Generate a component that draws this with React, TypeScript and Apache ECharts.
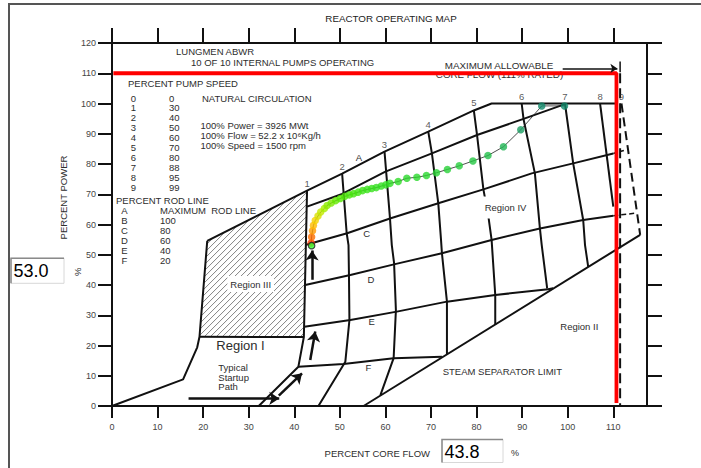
import React, { useEffect, useRef } from 'react';
import * as echarts from 'echarts';

const FONT = '"Liberation Sans", Arial, Helvetica, sans-serif';

// ---------- axes ----------
const X_MAX = 117.4;
const Y_MAX = 120;
const X_TICKS = [0, 10, 20, 30, 40, 50, 60, 70, 80, 90, 100, 110];
const Y_TICKS = [0, 10, 20, 30, 40, 50, 60, 70, 80, 90, 100, 110, 120];

// ---------- map boundaries (core flow %, power %) ----------
const NATURAL_CIRCULATION = [[0, 0], [15.6, 8.8], [18.7, 19.4], [19.2, 22.9], [20.9, 54.6]];
const REGION_III = [[20.9, 54.6], [42.8, 71.2], [42.1, 22.8], [19.2, 22.9]];
const REGION_III_BOTTOM = [[19.2, 22.9], [42.1, 22.8]];

const ROD_A = [[20.9, 54.6], [42.8, 71.2], [50.5, 76.8], [59.8, 84.1], [69.4, 90.7], [79.4, 97.7], [83.3, 100], [110.5, 100]];
const ROD_B = [[42.8, 65.9], [50.5, 70.1], [60.0, 77.5], [70.2, 83.5], [80.1, 89.6], [90.3, 94.9], [99.4, 99.8]];
const ROD_C = [[42.6, 53.3], [51.6, 57.1], [61.0, 62.0], [71.6, 67.0], [81.5, 71.6], [92.1, 76.9], [101.2, 80.2], [110.0, 83.5]];
const ROD_D = [[42.4, 40.0], [52.3, 43.3], [62.1, 46.9], [72.4, 50.5], [83.3, 54.9], [93.9, 58.7], [103.4, 61.5], [110.0, 62.9]];
const ROD_E = [[42.2, 26.2], [52.3, 28.4], [62.5, 31.2], [73.5, 34.5], [84.1, 36.7], [95.7, 38.6], [96.8, 38.9]];
const ROD_F = [[40.9, 13.0], [50.8, 13.9], [61.8, 15.8], [72.4, 16.3]];
const ROD_C_EXT = [[110.0, 83.5], [112.6, 84.6]];
const ROD_D_EXT = [[110.0, 62.9], [115.2, 63.8]];

const SPEED_1 = [[42.8, 71.2], [42.1, 22.8], [40.9, 13.0], [32.2, 0]];
const SPEED_2 = [[50.5, 76.8], [51.5, 57.1], [51.9, 53.2], [52.0, 43.3], [52.1, 28.4], [51.2, 14.6], [45.3, 0]];
const SPEED_3 = [[59.8, 84.1], [61.0, 62.0], [61.4, 53.2], [61.9, 47.2], [62.3, 31.7], [61.8, 15.8], [58.9, 3.6]];
const SPEED_4 = [[69.4, 90.7], [70.2, 83.5], [71.6, 67.0], [72.2, 54.9], [72.4, 50.5], [73.5, 34.5], [73.5, 17.2]];
const SPEED_5 = [[79.4, 97.7], [80.1, 89.6], [81.5, 71.6], [82.6, 62.6], [83.3, 54.9], [84.1, 36.7], [84.1, 26.8]];
const SPEED_6 = [[89.9, 100], [90.3, 94.9], [92.8, 76.9], [93.9, 58.7], [94.3, 53.2], [95.5, 38.8]];
const SPEED_7 = [[99.4, 100], [101.2, 80.2], [103.4, 61.5], [103.8, 53.2], [104.5, 46.0]];
const SPEED_8 = [[107.1, 100], [110.0, 65.9]];
const SPEED_9 = [[111.8, 100], [115.9, 56.6]];
const SPEED_NUMBERS = ['1', '2', '3', '4', '5', '6', '7', '8', '9'];

const STEAM_SEPARATOR = [[55.2, 0], [115.9, 56.6]];
const MAX_FLOW_RED = [[0.3, 110], [110.7, 110], [110.7, 1]];
const FLOW_111 = [[111.5, 110], [111.5, 0]];
const MAX_ALLOW_POINTER = [[98.9, 111.6], [110.9, 111.6]];
const MAX_ALLOW_TICK = [[111.5, 113.9], [111.5, 110.3]];

// ---------- startup arrows ----------
const STARTUP_ARROWS = [
  [[16.8, 2.5], [36.7, 2.5]],
  [[36.6, 3.4], [41.7, 10.8]],
  [[43.5, 15.2], [44.6, 24.6]],
  [[43.9, 41.7], [43.9, 51.4]],
];

// ---------- operating path ----------
const PATH_FLOW = [43.7, 43.8, 44.0, 44.2, 44.6, 45.2, 45.8, 46.6, 47.2, 48.1, 49.1, 50.1, 51.1, 52.1, 53.0, 54.0, 55.0, 56.0, 57.0, 58.0, 59.1, 60.1, 61.0, 62.8, 64.7, 66.9, 69.0, 71.2, 73.6, 76.2, 79.2, 82.5, 85.9, 89.7, 94.3, 99.3];
const PATH_POWER = [53.9, 55.9, 57.9, 59.7, 61.3, 62.8, 64.1, 65.3, 66.3, 67.1, 67.9, 68.6, 69.3, 69.8, 70.2, 70.7, 71.2, 71.6, 71.9, 72.2, 72.7, 73.1, 73.6, 74.2, 75.3, 75.6, 76.2, 77.1, 78.2, 79.4, 81.0, 82.8, 85.7, 91.3, 99.2, 99.2];
const CURRENT_FLOW = 43.8;
const CURRENT_POWER = 53.0;

// ---------- legend text ----------
const PUMP_SPEED_NO = ['0', '1', '2', '3', '4', '5', '6', '7', '8', '9'];
const PUMP_SPEED_PCT = ['0', '30', '40', '50', '60', '70', '80', '88', '95', '99'];
const ROD_LINE_ID = ['A', 'B', 'C', 'D', 'E', 'F'];
const ROD_LINE_PCT = ['MAXIMUM  ROD LINE', '100', '80', '60', '40', '20'];

type TOpt = { size?: number; align?: string; fill?: string; rotation?: number; bg?: string; pad?: any; z?: number };
const T = (text: string, x: number, y: number, o: TOpt = {}) => ({
  type: 'text',
  x,
  y,
  rotation: o.rotation ?? 0,
  z: o.z ?? 50,
  silent: true,
  style: {
    text,
    fill: o.fill ?? '#2d2d2d',
    fontSize: o.size ?? 9.5,
    fontFamily: FONT,
    align: o.align ?? 'left',
    verticalAlign: 'middle',
    textAlign: o.align ?? 'left',
    textVerticalAlign: 'middle',
    backgroundColor: o.bg,
    padding: o.pad,
  },
});

const lineSeries = (name: string, data: number[][], o: any = {}) => ({
  type: 'line',
  name,
  data,
  symbol: 'none',
  silent: true,
  clip: false,
  z: o.z ?? 3,
  lineStyle: { color: o.color ?? '#111', width: o.width ?? 2, type: o.type ?? 'solid' },
});

function buildOption() {
  const axisStyle = { color: '#111', width: 2 };
  const graphics: any[] = [];

  graphics.push({
    type: 'rect', z: 0, silent: true,
    shape: { x: 9, y: 4, width: 900, height: 700 },
    style: { fill: 'none', stroke: '#555', lineWidth: 2 },
  });
  graphics.push(T('REACTOR OPERATING MAP', 391, 18, { align: 'center', size: 9.8, fill: '#222' }));
  graphics.push(T('LUNGMEN ABWR', 176, 51));
  graphics.push(T('10 OF 10 INTERNAL PUMPS OPERATING', 191, 62.5));
  graphics.push(T('PERCENT PUMP SPEED', 128, 83.5));
  PUMP_SPEED_NO.forEach((n, i) => {
    graphics.push(T(n, 133.5, 98 + i * 9.96, { align: 'center' }));
    graphics.push(T(PUMP_SPEED_PCT[i], 169, 98 + i * 9.96));
  });
  graphics.push(T('NATURAL CIRCULATION', 202, 98.5));
  graphics.push(T('100% Power = 3926 MWt', 200.5, 125));
  graphics.push(T('100% Flow = 52.2 x 10\u2076Kg/h', 200.5, 135));
  graphics.push(T('100% Speed = 1500 rpm', 200.5, 145));
  graphics.push(T('PERCENT ROD LINE', 116, 200.5));
  ROD_LINE_ID.forEach((n, i) => {
    graphics.push(T(n, 124.5, 210.7 + i * 10, { align: 'center' }));
    graphics.push(T(ROD_LINE_PCT[i], 160, 210.7 + i * 10));
  });
  graphics.push(T('MAXIMUM ALLOWABLE', 499, 65, { align: 'center', size: 9.8 }));
  graphics.push(T('CORE FLOW (111% RATED)', 499.5, 74.8, { align: 'center', size: 9.8, z: 1 }));

  graphics.push(T('A', 359, 157.7, { align: 'center' }));
  graphics.push(T('C', 366.7, 233.3, { align: 'center' }));
  graphics.push(T('D', 371, 279, { align: 'center' }));
  graphics.push(T('E', 371.7, 321.7, { align: 'center' }));
  graphics.push(T('F', 368.3, 367.3, { align: 'center' }));

  graphics.push(T('Region III', 250.7, 284, { align: 'center', bg: '#fff', pad: [3, 3] }));
  graphics.push(T('Region I', 240.5, 345, { align: 'center', size: 13 }));
  graphics.push(T('Region IV', 505.5, 207.5, { align: 'center', bg: '#fff', pad: [6, 2] }));
  graphics.push(T('Region II', 579.3, 326, { align: 'center' }));
  graphics.push(T('STEAM SEPARATOR LIMIT', 442.7, 371));
  graphics.push(T('Typical', 218.3, 367.3));
  graphics.push(T('Startup', 218.3, 377));
  graphics.push(T('Path', 218.3, 386.7));

  graphics.push(T('PERCENT POWER', 63.5, 197.5, { align: 'center', rotation: Math.PI / 2 }));
  graphics.push(T('%', 77.3, 271.7, { align: 'center', rotation: Math.PI / 2 }));
  graphics.push(T('PERCENT CORE FLOW', 430, 453, { align: 'right' }));
  graphics.push(T('%', 515, 453, { align: 'center', size: 9 }));

  // input boxes
  const box = (x: number, y: number, w: number, h: number, value: string) => {
    graphics.push({ type: 'rect', z: 40, silent: true, shape: { x, y, width: w, height: h }, style: { fill: '#fff', stroke: '#d8d8d8', lineWidth: 1 } });
    graphics.push({ type: 'polyline', z: 41, silent: true, shape: { points: [[x, y + h], [x, y], [x + w, y]] }, style: { fill: 'none', stroke: '#8a8a8a', lineWidth: 1.5 } });
    graphics.push(T(value, x + 2.5, y + h / 2 + 0.5, { size: 18, fill: '#000', z: 42 }));
  };
  box(11, 258.3, 53, 25, CURRENT_POWER.toFixed(1));
  box(442, 439.5, 61, 23, CURRENT_FLOW.toFixed(1));

  const series: any[] = [];
  // Region III hatch
  series.push({
    type: 'custom',
    coordinateSystem: 'cartesian2d',
    silent: true,
    z: 1,
    data: [[0, 0]],
    renderItem: (_p: any, api: any) => {
      const pts = REGION_III.map((p) => api.coord(p));
      const sums = pts.map((p: number[]) => p[0] + p[1]);
      const lo = Math.min(...sums);
      const hi = Math.max(...sums);
      const children: any[] = [];
      for (let c = lo + 3; c < hi; c += 6) {
        const hits: number[][] = [];
        for (let i = 0; i < pts.length; i++) {
          const P = pts[i];
          const Q = pts[(i + 1) % pts.length];
          const fp = P[0] + P[1] - c;
          const fq = Q[0] + Q[1] - c;
          if ((fp <= 0 && fq > 0) || (fp > 0 && fq <= 0)) {
            const t = fp / (fp - fq);
            hits.push([P[0] + t * (Q[0] - P[0]), P[1] + t * (Q[1] - P[1])]);
          }
        }
        if (hits.length >= 2) {
          children.push({
            type: 'line',
            shape: { x1: hits[0][0], y1: hits[0][1], x2: hits[1][0], y2: hits[1][1] },
            style: { stroke: '#666', lineWidth: 0.8 },
          });
        }
      }
      return { type: 'group', children };
    },
  });

  series.push(lineSeries('natural', NATURAL_CIRCULATION));
  series.push(lineSeries('r3bottom', REGION_III_BOTTOM));
  [ROD_A, ROD_B, ROD_C, ROD_D, ROD_E, ROD_F].forEach((d, i) => series.push(lineSeries('rod' + i, d)));
  series.push(lineSeries('rodCext', ROD_C_EXT, { type: [4, 3], width: 1.5 }));
  series.push(lineSeries('rodDext', ROD_D_EXT, { type: [5, 3], width: 1.5 }));
  [SPEED_1, SPEED_2, SPEED_3, SPEED_4, SPEED_5, SPEED_6, SPEED_7, SPEED_8].forEach((d, i) =>
    series.push(lineSeries('speed' + (i + 1), d))
  );
  series.push(lineSeries('speed9', SPEED_9, { type: [9, 5] }));
  series.push(lineSeries('steam', STEAM_SEPARATOR));
  series.push(lineSeries('flow111', FLOW_111, { type: [10, 5], width: 2 }));
  series.push(lineSeries('maxTick', MAX_ALLOW_TICK, { width: 1.5 }));

  // speed number labels at the top of each pump-speed line
  const speedTops = [SPEED_1, SPEED_2, SPEED_3, SPEED_4, SPEED_5, SPEED_6, SPEED_7, SPEED_8, SPEED_9].map((s) => s[0]);
  series.push({
    type: 'scatter',
    silent: true,
    z: 4,
    symbolSize: 1,
    itemStyle: { color: 'transparent' },
    data: speedTops.map((p, i) => ({ value: p, label: { formatter: SPEED_NUMBERS[i] } })),
    label: { show: true, position: 'top', distance: 2, color: '#2d2d2d', fontSize: 9.5, fontFamily: FONT },
  });

  series.push(lineSeries('maxRed', MAX_FLOW_RED, { color: '#ff0000', width: 3.8, z: 5 }));

  series.push({
    type: 'lines',
    coordinateSystem: 'cartesian2d',
    silent: true,
    z: 6,
    symbol: ['none', 'arrow'],
    symbolSize: 7,
    lineStyle: { color: '#111', width: 1.5, opacity: 1 },
    data: [{ coords: MAX_ALLOW_POINTER }],
  });

  // operating path
  const path = PATH_FLOW.map((x, i) => [x, PATH_POWER[i]]);
  series.push({
    type: 'line',
    data: path,
    symbol: 'none',
    silent: true,
    z: 6,
    lineStyle: { color: '#222', width: 0.8 },
  });
  const pathIndex = series.length;
  series.push({
    type: 'scatter',
    data: path,
    symbolSize: 7.5,
    silent: true,
    z: 7,
  });
  series.push({
    type: 'scatter',
    data: [[CURRENT_FLOW, CURRENT_POWER]],
    symbolSize: 6.5,
    silent: true,
    z: 8,
    itemStyle: { color: '#33ff33', borderColor: '#222', borderWidth: 1.2 },
  });

  series.push({
    type: 'lines',
    coordinateSystem: 'cartesian2d',
    silent: true,
    z: 8,
    symbol: ['none', 'arrow'],
    symbolSize: 10,
    lineStyle: { color: '#111', width: 2.5, opacity: 1 },
    data: STARTUP_ARROWS.map((a) => ({ coords: a })),
  });

  return {
    animation: false,
    backgroundColor: '#fff',
    grid: { left: 112, top: 43, width: 535, height: 363, containLabel: false },
    xAxis: [
      {
        type: 'value', position: 'bottom', min: 0, max: X_MAX, interval: 10,
        axisLine: { show: true, onZero: false, lineStyle: axisStyle },
        axisTick: { show: true, inside: false, length: 12, lineStyle: axisStyle, customValues: X_TICKS },
        axisLabel: {
          show: true, margin: 16, color: '#444', fontSize: 9, fontFamily: FONT, customValues: X_TICKS,
          formatter: (v: number) => (X_TICKS.includes(v) ? String(v) : ''),
        },
        splitLine: { show: false },
      },
      {
        type: 'value', position: 'top', min: 0, max: X_MAX, interval: 10,
        axisLine: { show: true, onZero: false, lineStyle: axisStyle },
        axisTick: { show: true, inside: false, length: 15, lineStyle: axisStyle, customValues: X_TICKS },
        axisLabel: { show: false },
        splitLine: { show: false },
      },
    ],
    yAxis: [
      {
        type: 'value', position: 'left', min: 0, max: Y_MAX, interval: 10,
        axisLine: { show: true, onZero: false, lineStyle: axisStyle },
        axisTick: { show: true, inside: false, length: 14, lineStyle: axisStyle, customValues: Y_TICKS },
        axisLabel: { show: true, margin: 16, color: '#444', fontSize: 9, fontFamily: FONT, customValues: Y_TICKS },
        splitLine: { show: false },
      },
      {
        type: 'value', position: 'right', min: 0, max: Y_MAX, interval: 10,
        axisLine: { show: true, onZero: false, lineStyle: axisStyle },
        axisTick: { show: true, inside: false, length: 15, lineStyle: axisStyle, customValues: Y_TICKS },
        axisLabel: { show: false },
        splitLine: { show: false },
      },
    ],
    visualMap: [
      {
        type: 'continuous',
        show: false,
        seriesIndex: pathIndex,
        dimension: 1,
        min: 53,
        max: 99.5,
        inRange: {
          color: ['#ff2200', '#ff8800', '#ffcc00', '#b8ee00', '#55e800', '#33e020', '#2ad830', '#26cc40', '#22bb50', '#1eaa5a', '#1a9c62', '#169268', '#128a6c'],
        },
      },
    ],
    graphic: { elements: graphics },
    series,
  };
}

export default function App() {
  const ref = useRef<HTMLDivElement>(null);
  useEffect(() => {
    if (!ref.current) return;
    const chart = echarts.init(ref.current, null, { renderer: 'svg' });
    chart.setOption(buildOption() as any);
    return () => chart.dispose();
  }, []);
  return (
    <div
      ref={ref}
      style={{ position: 'fixed', left: 0, top: 0, width: 701, height: 468, background: '#fff' }}
    />
  );
}
